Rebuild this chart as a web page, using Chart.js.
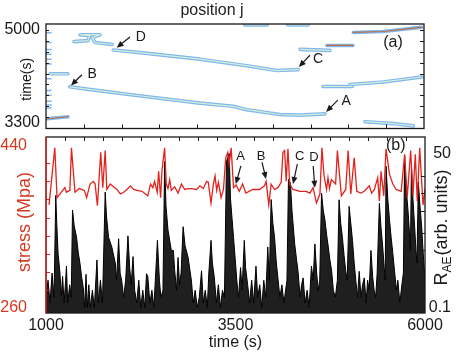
<!DOCTYPE html>
<html>
<head>
<meta charset="utf-8">
<title>position j / stress and R_AE</title>
<script src="https://cdn.jsdelivr.net/npm/chart.js@4.4.1/dist/chart.umd.min.js"></script>
<style>
  html, body { margin: 0; padding: 0; background: #fff; }
  .panel { position: absolute; left: 0; }
</style>
</head>
<body>
<canvas id="panel-a" class="panel" width="458" height="134" style="top:0"></canvas>
<canvas id="panel-b" class="panel" width="458" height="220" style="top:134px"></canvas>
<script>
// ---- panel (a): position j against time
var jTicks = [1, 2, 3, 4, 5, 6, 7, 8, 9];
var timeLabelsA = [3300, 5000];
var timeMinorA = [3200, 3400, 3600, 3800, 4000, 4200, 4400, 4600, 4800, 5000];

var bandJ = [
    [0.63, 1.08, 2.30, 4.07, 4.95, 5.31, 6.19, 6.72, 7.38],
    [1.78, 2.49, 4.07, 5.31, 6.10, 6.67],
    [0.74, 1.11, 1.16, 0.90, 1.43, 1.22, 1.30, 1.75],
    [0.11, 0.58],
    [0.03, 0.58],
    [5.26, 5.85],
    [6.40, 6.93],
    [8.13, 8.92, 9.94],
    [7.43, 8.12],
    [6.72, 7.51],
    [7.33, 8.10],
    [8.04, 8.92, 9.94],
    [8.44, 9.19, 9.72]
];
var bandT = [
    [3957, 3914, 3807, 3658, 3599, 3538, 3449, 3438, 3461],
    [4630, 4583, 4463, 4343, 4254, 4272],
    [4785, 4803, 4893, 4911, 4911, 4857, 4767, 4732],
    [4195, 4195],
    [3372, 3408],
    [5089, 5089],
    [5089, 5089],
    [4952, 4970, 5048],
    [4714, 4714],
    [4642, 4624],
    [3962, 3962],
    [3998, 4046, 4136],
    [3318, 3283, 3241]
];
var edgeMarkT = [4946, 4767, 4642, 4553, 4463, 4374, 4106, 3891, 3801, 3694, 3622, 3569];

// event markers in panel (a): label position, arrow tail, arrow head
var markA_text = ["D", "B", "C", "A"];
var markA_j = [2.51, 1.22, 7.20, 7.94];
var markA_t = [4875, 4195, 4463, 3694];
var arrowA = [[2.22, 4869, 1.87, 4673], [0.95, 4177, 0.66, 3980], [6.98, 4535, 6.69, 4320], [7.72, 3712, 7.41, 3497]];

// ---- panel (b): stress (left axis) and R_AE (right, log axis) against time
var timeLabelsB = [1000, 3500, 6000];
var timeMinorB = [1250, 1500, 1750, 2000, 2250, 2500, 2750, 3000, 3250, 3500, 3750, 4000, 4250, 4500, 4750, 5000, 5250, 5500, 5750];
var stressLabels = [260, 440];
var stressMinor = [280, 300, 320, 340, 360, 380, 400, 420];
var raeLabels = [0.1, 50];
var raeMinor = [0.2, 0.5, 1, 2, 5, 10, 20];

var stressT = [1040, 1116, 1146, 1203, 1249, 1270, 1315, 1336, 1382, 1439, 1505, 1536, 1581, 1625, 1648, 1678, 1722, 1749, 1781, 1802,
    1847, 1891, 1935, 1980, 2024, 2068, 2113, 2157, 2201, 2267, 2343, 2379, 2410, 2432, 2467, 2486, 2512, 2530, 2565, 2587,
    2609, 2632, 2653, 2698, 2742, 2786, 2831, 2875, 2919, 2986, 3031, 3075, 3119, 3141, 3177, 3208, 3230, 3252, 3274, 3310,
    3341, 3371, 3398, 3417, 3443, 3474, 3507, 3550, 3594, 3637, 3727, 3816, 3882, 3904, 3939, 3970, 4015, 4059, 4103, 4126,
    4148, 4169, 4192, 4215, 4258, 4348, 4431, 4481, 4524, 4568, 4614, 4640, 4667, 4701, 4720, 4740, 4765, 4821, 4844, 4897,
    4954, 4986, 5021, 5066, 5100, 5154, 5199, 5265, 5296, 5332, 5376, 5398, 5420, 5456, 5486, 5531, 5575, 5619, 5686, 5731,
    5765, 5811, 5841, 5872, 5898, 5930, 5974, 6000];
var stressV = [374, 437, 382, 388, 393, 388, 390, 437, 388, 392, 390, 382, 397, 400, 397, 373, 432, 393, 434, 391,
    397, 394, 391, 386, 388, 391, 395, 391, 390, 389, 384, 397, 393, 400, 388, 411, 382, 412, 437, 397,
    392, 402, 390, 394, 387, 397, 391, 392, 392, 391, 395, 392, 400, 399, 376, 397, 406, 390, 399, 382,
    391, 426, 432, 419, 437, 393, 396, 389, 397, 387, 391, 391, 395, 400, 374, 397, 391, 393, 399, 432,
    434, 400, 436, 397, 391, 389, 389, 387, 393, 376, 386, 437, 407, 391, 404, 392, 402, 397, 434, 384,
    391, 434, 386, 426, 389, 387, 389, 395, 387, 391, 404, 378, 411, 384, 436, 408, 397, 391, 389, 430,
    382, 434, 384, 430, 378, 437, 374, 392];

var raeT = [1000, 1027, 1053, 1080, 1106, 1129, 1140, 1160, 1182, 1203, 1219, 1239, 1259, 1270, 1286, 1313, 1333, 1350, 1372, 1403,
    1426, 1448, 1469, 1492, 1509, 1528, 1545, 1565, 1585, 1612, 1638, 1672, 1692, 1718, 1745, 1781, 1798, 1825, 1868, 1914,
    1931, 1958, 1978, 1998, 2024, 2051, 2081, 2104, 2124, 2148, 2170, 2197, 2224, 2250, 2277, 2303, 2326, 2343, 2370, 2397,
    2423, 2459, 2470, 2496, 2516, 2543, 2565, 2583, 2609, 2653, 2680, 2698, 2722, 2742, 2762, 2782, 2809, 2835, 2875, 2919,
    2942, 2968, 2995, 3022, 3052, 3075, 3101, 3128, 3148, 3177, 3195, 3221, 3248, 3274, 3301, 3328, 3354, 3381, 3417, 3434,
    3474, 3500, 3518, 3540, 3567, 3587, 3616, 3633, 3660, 3687, 3713, 3740, 3770, 3793, 3820, 3846, 3873, 3899, 3926, 3946,
    3970, 3993, 4015, 4039, 4059, 4086, 4112, 4139, 4179, 4199, 4225, 4245, 4281, 4305, 4325, 4352, 4372, 4392, 4418, 4445,
    4471, 4502, 4525, 4547, 4571, 4591, 4611, 4635, 4658, 4680, 4704, 4724, 4744, 4768, 4791, 4817, 4844, 4866, 4888, 4910,
    4933, 4954, 4974, 4999, 5021, 5043, 5066, 5087, 5110, 5132, 5156, 5176, 5199, 5223, 5243, 5263, 5287, 5309, 5329, 5349,
    5369, 5398, 5420, 5442, 5462, 5475, 5486, 5509, 5531, 5553, 5575, 5598, 5622, 5642, 5668, 5695, 5715, 5731, 5752, 5775,
    5795, 5808, 5821, 5841, 5864, 5881, 5894, 5912, 5934, 5957, 5974, 5994, 6000];
var raeV = [0.15, 0.3, 0.12, 0.4, 0.15, 9.2, 3.4, 0.86, 0.44, 0.16, 0.35, 0.12, 0.3, 0.53, 0.12, 0.25, 0.15, 5.1, 2.7, 1.7,
    0.9, 0.6, 0.35, 0.22, 0.1, 0.38, 0.1, 0.25, 0.1, 0.2, 0.1, 0.68, 0.12, 0.3, 0.12, 10.5, 4, 1.7, 1.15, 0.6,
    0.3, 1.6, 0.4, 0.3, 0.15, 0.3, 1.8, 0.5, 0.25, 0.78, 0.2, 0.12, 0.3, 0.1, 0.2, 0.1, 0.39, 0.35, 0.12, 0.2,
    0.1, 0.78, 1.5, 0.3, 0.15, 0.2, 36, 6, 2.3, 1.0, 1.0, 0.44, 0.2, 0.75, 0.25, 0.4, 2.6, 1.2, 0.75, 0.29,
    0.12, 0.2, 0.1, 0.15, 0.44, 0.12, 0.2, 0.1, 0.4, 1.5, 0.6, 0.33, 0.12, 0.25, 0.1, 0.2, 0.15, 36, 50, 8,
    1.7, 0.6, 0.29, 0.15, 0.5, 0.2, 1.5, 0.5, 0.25, 0.12, 0.3, 0.12, 0.53, 0.15, 0.25, 0.1, 0.3, 0.15, 1.15, 0.3,
    7.8, 3, 1.7, 0.6, 0.33, 0.15, 0.25, 0.12, 0.3, 17.6, 15, 5, 1.3, 0.7, 0.43, 0.15, 0.25, 0.33, 0.12, 0.2,
    0.1, 0.53, 0.3, 1.3, 0.4, 0.2, 0.3, 10.1, 5, 3.4, 1.8, 1.15, 0.7, 0.44, 0.2, 0.15, 0.3, 7.7, 3, 1.7,
    0.8, 0.44, 0.3, 5.9, 3, 1.5, 0.6, 0.3, 0.15, 0.43, 0.15, 0.25, 0.33, 0.12, 0.3, 0.2, 1.0, 0.35, 0.2, 0.15,
    0.4, 6.7, 2.5, 1.15, 0.5, 0.3, 30, 8, 3.5, 1.7, 0.9, 0.44, 0.2, 0.3, 0.12, 0.25, 0.4, 46, 12, 5.2,
    2, 1, 30, 8, 2.5, 1, 0.6, 15.7, 6, 2.5, 1, 0.4, 0.2];

var markB_text = ["A", "B", "C", "D"];
var markB_t = [3567, 3837, 4348, 4534];
var markB_s = [427, 428, 427, 426];
var arrowB = [[3571, 417, 3504, 397], [3850, 421, 3903, 402.5], [4316, 419, 4259, 397], [4525, 417, 4547, 393]];

// ---- styles
var ink = "rgb(25, 25, 25)",
    red = "rgb(226, 34, 28)",
    redText = "rgb(212, 58, 32)",
    bandEdge = "rgb(128, 184, 238)",
    bandCore = "rgb(214, 238, 214)",
    bandRust = "rgb(186, 112, 70)",
    face = "'Liberation Sans', Arial, Helvetica, sans-serif";

Chart.defaults.font.family = face;
Chart.defaults.color = ink;

var coreColor = [bandCore, bandCore, bandCore, bandCore, bandRust, bandCore, bandCore, bandRust, bandRust, bandCore, bandCore, bandCore, bandCore];

function pairs(xs, ys) {
    return xs.map(function (x, i) { return { x: x, y: ys[i] }; });
}
function fixedTicks(list) {
    return function (scale) { scale.ticks = list.map(function (v) { return { value: v }; }); };
}
function plainLabel(v) { return String(v); }
function boxSize(w, h) {
    return function (s) {
        if (w !== null) s.width = w;
        if (h !== null) s.height = h;
        s.paddingTop = 0; s.paddingBottom = 0; s.paddingLeft = 0; s.paddingRight = 0;
    };
}

// box, inner ticks, arrows, letters and the rotated side titles
var decor = {
    id: "decor",
    afterDatasetsDraw: function (chart, args, o) {
        var ctx = chart.ctx, a = chart.chartArea;
        ctx.save();
        ctx.lineWidth = 1;
        (o.ticks || []).forEach(function (t) {
            var s = chart.scales[t.scale];
            ctx.strokeStyle = t.color || ink;
            ctx.beginPath();
            t.values.forEach(function (v) {
                var p = Math.round(s.getPixelForValue(v)) + 0.5;
                if (t.edge === "bottom") { ctx.moveTo(p, a.bottom); ctx.lineTo(p, a.bottom - t.len); }
                if (t.edge === "top") { ctx.moveTo(p, a.top); ctx.lineTo(p, a.top + t.len); }
                if (t.edge === "left") { ctx.moveTo(a.left, p); ctx.lineTo(a.left + t.len, p); }
                if (t.edge === "right") { ctx.moveTo(a.right, p); ctx.lineTo(a.right - t.len, p); }
            });
            ctx.stroke();
        });
        ctx.lineWidth = 1.3;
        ctx.strokeStyle = ink;
        ctx.strokeRect(a.left, a.top, a.right - a.left, a.bottom - a.top);
        if (o.leftColor) {
            ctx.strokeStyle = o.leftColor;
            ctx.beginPath(); ctx.moveTo(a.left, a.top); ctx.lineTo(a.left, a.bottom); ctx.stroke();
        }
        var xs = chart.scales.x, ys = chart.scales[o.yScale || "y"];
        ctx.fillStyle = ink; ctx.strokeStyle = ink; ctx.lineWidth = 1.2;
        (o.arrows || []).forEach(function (r) {
            var x1 = xs.getPixelForValue(r[0]), y1 = ys.getPixelForValue(r[1]),
                x2 = xs.getPixelForValue(r[2]), y2 = ys.getPixelForValue(r[3]),
                g = Math.atan2(y2 - y1, x2 - x1), c = Math.cos(g), s = Math.sin(g);
            ctx.beginPath(); ctx.moveTo(x1, y1); ctx.lineTo(x2 - 5 * c, y2 - 5 * s); ctx.stroke();
            ctx.beginPath();
            ctx.moveTo(x2, y2);
            ctx.lineTo(x2 - 7 * c + 3 * s, y2 - 7 * s - 3 * c);
            ctx.lineTo(x2 - 7 * c - 3 * s, y2 - 7 * s + 3 * c);
            ctx.closePath(); ctx.fill();
        });
        ctx.textAlign = "center"; ctx.textBaseline = "middle";
        (o.labels || []).forEach(function (l) {
            ctx.font = l.size + "px " + face;
            ctx.fillText(l.text, xs.getPixelForValue(l.x), ys.getPixelForValue(l.y));
        });
        if (o.leftTitle) {
            var lt = o.leftTitle;
            ctx.save();
            ctx.translate(lt.x, (a.top + a.bottom) / 2 + lt.dy);
            ctx.rotate(-Math.PI / 2);
            ctx.fillStyle = lt.color;
            ctx.font = lt.size + "px " + face;
            ctx.fillText(lt.text, 0, 0);
            ctx.restore();
        }
        if (o.sideTitle) {
            ctx.translate(o.sideTitle.x, (a.top + a.bottom) / 2 + o.sideTitle.dy);
            ctx.rotate(-Math.PI / 2);
            ctx.textAlign = "left";
            var big = "18px " + face, small = "12px " + face;
            ctx.font = big; var w1 = ctx.measureText("R").width, w3 = ctx.measureText("(arb. units)").width;
            ctx.font = small; var w2 = ctx.measureText("AE").width;
            var x0 = -(w1 + w2 + w3) / 2;
            ctx.font = big; ctx.fillText("R", x0, 0);
            ctx.font = small; ctx.fillText("AE", x0 + w1, 6);
            ctx.font = big; ctx.fillText("(arb. units)", x0 + w1 + w2 + 1, 0);
        }
        ctx.restore();
    }
};

// ---- panel (a)
var setsA = [];
bandJ.forEach(function (js, i) {
    setsA.push({ data: pairs(js, bandT[i]), borderColor: bandEdge, borderWidth: 3.6, pointRadius: 0,
        borderCapStyle: "round", borderJoinStyle: "round", order: 3 });
});
bandJ.forEach(function (js, i) {
    setsA.push({ data: pairs(js, bandT[i]), borderColor: coreColor[i], borderWidth: 1.2, pointRadius: 0,
        borderCapStyle: "round", borderJoinStyle: "round", order: 2 });
});
setsA.push({ data: edgeMarkT.map(function (t) { return { x: 0.07, y: t }; }), showLine: false,
    pointStyle: "line", pointRadius: 3, borderColor: bandEdge, borderWidth: 1.5, order: 1 });

new Chart(document.getElementById("panel-a"), {
    type: "line",
    data: { datasets: setsA },
    plugins: [decor],
    options: {
        responsive: false, animation: false, events: [],
        layout: { padding: { left: 0, right: 34, top: 0, bottom: 0 } },
        plugins: {
            legend: { display: false }, tooltip: { enabled: false },
            title: { display: true, text: "position j", color: "#222", font: { size: 16, weight: "normal" }, padding: { top: 1, bottom: 3.8 } },
            decor: {
                ticks: [
                    { scale: "x", edge: "bottom", values: jTicks, len: 4 },
                    { scale: "y", edge: "right", values: timeMinorA, len: 4 },
                    { scale: "y", edge: "left", values: timeMinorA, len: 3 }
                ],
                arrows: arrowA,
                labels: markA_text.map(function (s, i) { return { text: s, x: markA_j[i], y: markA_t[i], size: 14 }; })
                    .concat([{ text: "(a)", x: 9.18, y: 4767, size: 16 }]),
                leftTitle: { text: "time(s)", x: 27, dy: 3, size: 14, color: ink }
            }
        },
        scales: {
            x: { type: "linear", min: 0, max: 10, grid: { display: false, drawTicks: false }, border: { display: false },
                ticks: { display: false }, afterFit: boxSize(null, 3) },
            y: { type: "linear", min: 3193, max: 5107, grid: { display: false, drawTicks: false }, border: { display: false },
                afterBuildTicks: fixedTicks(timeLabelsA),
                ticks: { font: { size: 16 }, color: ink, padding: 6, callback: plainLabel },
                afterFit: boxSize(46, null) }
        }
    }
});

// ---- panel (b)
new Chart(document.getElementById("panel-b"), {
    type: "line",
    data: {
        datasets: [
            { data: pairs(stressT, stressV), yAxisID: "y", borderColor: red, borderWidth: 1.3, pointRadius: 0, order: 1 },
            { data: pairs(raeT, raeV), yAxisID: "y2", borderColor: "#000", backgroundColor: "rgba(0,0,0,0.88)",
                borderWidth: 1, pointRadius: 0, fill: "start", order: 2 }
        ]
    },
    plugins: [decor],
    options: {
        responsive: false, animation: false, events: [],
        layout: { padding: { left: 0, right: 7, top: 3, bottom: 0 } },
        plugins: {
            legend: { display: false }, tooltip: { enabled: false },
            decor: {
                leftColor: red,
                ticks: [
                    { scale: "x", edge: "top", values: timeMinorB, len: 4 },
                    { scale: "x", edge: "bottom", values: timeMinorB, len: 3 },
                    { scale: "y", edge: "left", values: stressMinor, len: 4, color: red },
                    { scale: "y2", edge: "right", values: raeMinor, len: 4 }
                ],
                arrows: arrowB,
                labels: markB_text.map(function (s, i) { return { text: s, x: markB_t[i], y: markB_s[i], size: 13 }; })
                    .concat([{ text: "(b)", x: 5615, y: 439, size: 16 }]),
                leftTitle: { text: "stress (Mpa)", x: 25, dy: -3, size: 18, color: redText },
                sideTitle: { x: 442, dy: 3 }
            }
        },
        scales: {
            x: { type: "linear", min: 1000, max: 6000, grid: { display: false, drawTicks: false }, border: { display: false },
                afterBuildTicks: fixedTicks(timeLabelsB),
                ticks: { font: { size: 16 }, color: ink, padding: 3, maxRotation: 0, autoSkip: false, callback: plainLabel },
                title: { display: true, text: "time (s)", font: { size: 16 }, color: ink, padding: { top: 0, bottom: 2 } },
                afterFit: boxSize(null, 41) },
            y: { type: "linear", position: "left", min: 254.5, max: 449, grid: { display: false, drawTicks: false }, border: { display: false },
                afterBuildTicks: fixedTicks(stressLabels),
                ticks: { font: { size: 16 }, color: redText, padding: 19, callback: plainLabel },
                afterFit: boxSize(46, null) },
            y2: { type: "logarithmic", position: "right", min: 0.08, max: 97, grid: { display: false, drawTicks: false }, border: { display: false },
                afterBuildTicks: fixedTicks(raeLabels),
                ticks: { font: { size: 16 }, color: ink, crossAlign: "far", callback: plainLabel },
                afterFit: boxSize(26, null) }
        }
    }
});
</script>
</body>
</html>
